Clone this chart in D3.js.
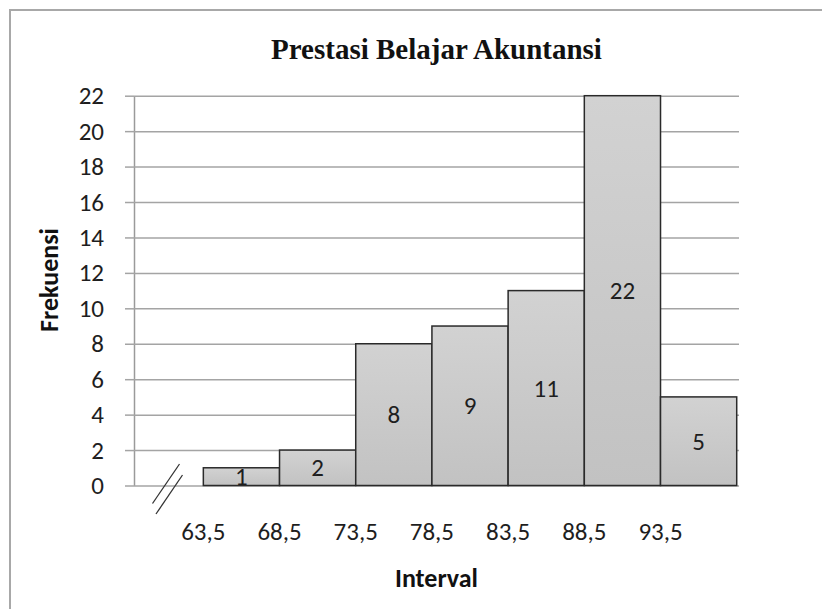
<!DOCTYPE html>
<html>
<head>
<meta charset="utf-8">
<script src="https://cdn.jsdelivr.net/npm/d3@7"></script>
<style>
  body { margin: 0; background: #fff; }
  svg { display: block; }
</style>
</head>
<body>
<svg width="822" height="609"></svg>
<script>
// data
const binStart = [63.5, 68.5, 73.5, 78.5, 83.5, 88.5, 93.5];
const binWidth = 5;
const frekuensi = [1, 2, 8, 9, 11, 22, 5];
const xTickLabels = ["63,5", "68,5", "73,5", "78,5", "83,5", "88,5", "93,5"];
const yTicks = [0, 2, 4, 6, 8, 10, 12, 14, 16, 18, 20, 22];

// plot box (plain names like "top" clash with window globals)
const plotLeft = 134, plotRight = 739, plotTop = 95.7, plotBottom = 485.5;
const sansFont = "Carlito, Calibri, Lato, sans-serif";

var svg = d3.select("svg");

var x = d3.scaleLinear().domain([58.95, 98.65]).range([plotLeft, plotRight]);
var y = d3.scaleLinear().domain([0, 22]).range([plotBottom, plotTop]);

// outer frame (only top and left show in the picture)
svg.append("path")
  .attr("d", "M10,609 L10,10 L822,10")
  .attr("fill", "none")
  .attr("stroke", "#a8a8a8")
  .attr("stroke-width", 2);

// gradient for the bars
var grad = svg.append("defs").append("linearGradient")
  .attr("id", "barFill").attr("x1", 0).attr("y1", 0).attr("x2", 0).attr("y2", 1);
grad.append("stop").attr("offset", "0%").attr("stop-color", "#d2d2d2");
grad.append("stop").attr("offset", "100%").attr("stop-color", "#c2c2c2");

// gridlines + little ticks on the left of the axis
var yAxis = d3.axisLeft(y)
  .tickValues(yTicks)
  .tickSize(-(plotRight - plotLeft))
  .tickSizeOuter(0)
  .tickFormat("");
var gy = svg.append("g").attr("transform", "translate(" + plotLeft + ",0)").call(yAxis);
gy.select(".domain").attr("stroke", "#9a9a9a").attr("stroke-width", 1.5);
gy.selectAll(".tick line").attr("stroke", "#a4a4a4").attr("stroke-width", 1.5);
gy.selectAll(".tick").append("line")
  .attr("x1", -9).attr("x2", 0)
  .attr("stroke", "#a4a4a4").attr("stroke-width", 1.5);

// y tick labels
svg.append("g").selectAll("text")
  .data(yTicks)
  .enter().append("text")
  .attr("x", 104)
  .attr("y", d => y(d))
  .attr("dy", "0.34em")
  .attr("text-anchor", "end")
  .style("font-family", sansFont)
  .style("font-size", "25px")
  .style("fill", "#1e1e1e")
  .text(d => d);

// bars
var bars = svg.append("g").selectAll("g")
  .data(frekuensi)
  .enter().append("g");

bars.append("rect")
  .attr("x", (d, i) => x(binStart[i]))
  .attr("y", d => y(d))
  .attr("width", (d, i) => x(binStart[i] + binWidth) - x(binStart[i]))
  .attr("height", d => y(0) - y(d))
  .attr("fill", "url(#barFill)")
  .attr("stroke", "#2a2a2a")
  .attr("stroke-width", 1.5);

bars.append("text")
  .attr("x", (d, i) => (x(binStart[i]) + x(binStart[i] + binWidth)) / 2)
  .attr("y", d => (y(d) + y(0)) / 2)
  .attr("dy", "0.34em")
  .attr("text-anchor", "middle")
  .style("font-family", sansFont)
  .style("font-size", "25px")
  .style("fill", "#1e1e1e")
  .text(d => d);

// x tick labels at the bin edges
svg.append("g").selectAll("text")
  .data(xTickLabels)
  .enter().append("text")
  .attr("x", (d, i) => x(binStart[i]))
  .attr("y", 540)
  .attr("text-anchor", "middle")
  .style("font-family", sansFont)
  .style("font-size", "25px")
  .style("fill", "#1e1e1e")
  .text(d => d);

// axis break "//"
var brk = svg.append("g").attr("transform", "translate(" + (plotLeft + 32) + "," + (plotBottom + 3) + ")");
brk.append("line").attr("x1", 13.5).attr("y1", -24.5).attr("x2", -13.5).attr("y2", 15);
brk.append("line").attr("x1", 16.5).attr("y1", -13.5).attr("x2", -10).attr("y2", 25.5);
brk.selectAll("line").attr("stroke", "#333").attr("stroke-width", 1.3);

// title
svg.append("text")
  .attr("x", (plotLeft + plotRight) / 2)
  .attr("y", 58.5)
  .attr("text-anchor", "middle")
  .style("font-family", "'Liberation Serif', 'Times New Roman', serif")
  .style("font-weight", "bold")
  .style("font-size", "29px")
  .style("fill", "#111")
  .text("Prestasi Belajar Akuntansi");

// axis titles
svg.append("text")
  .attr("transform", "translate(58,280) rotate(-90)")
  .attr("text-anchor", "middle")
  .style("font-family", sansFont)
  .style("font-weight", "bold")
  .style("font-size", "26px")
  .style("fill", "#111")
  .text("Frekuensi");

svg.append("text")
  .attr("x", (plotLeft + plotRight) / 2)
  .attr("y", 587)
  .attr("text-anchor", "middle")
  .style("font-family", sansFont)
  .style("font-weight", "bold")
  .style("font-size", "26px")
  .style("fill", "#111")
  .text("Interval");
</script>
</body>
</html>
